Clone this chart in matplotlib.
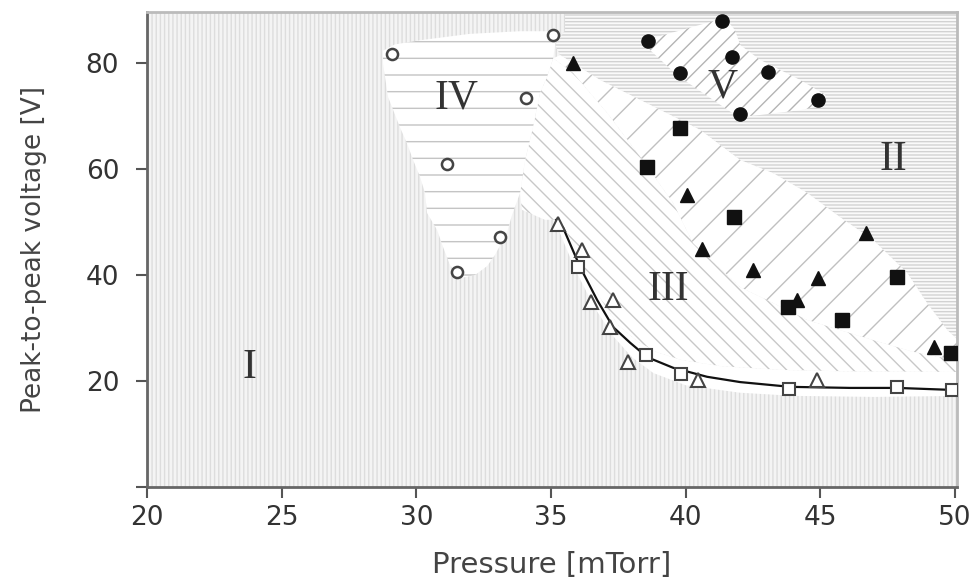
import matplotlib
matplotlib.use('Agg')
import matplotlib.pyplot as plt
from matplotlib.patches import Polygon

# measured points
open_circ_x = [29.1, 35.08, 34.07, 31.14, 33.1, 31.5]
open_circ_y = [81.7, 85.3, 73.4, 60.9, 47.2, 40.6]

fill_circ_x = [38.6, 41.35, 41.7, 39.8, 43.06, 42.0, 44.9]
fill_circ_y = [84.2, 87.9, 81.1, 78.1, 78.3, 70.4, 73.0]

fill_tri_x = [35.8, 40.05, 40.6, 42.5, 44.9, 44.14, 46.7, 49.2]
fill_tri_y = [80.0, 55.1, 44.9, 40.9, 39.4, 35.3, 47.9, 26.4]

fill_sq_x = [38.57, 39.8, 41.8, 43.8, 45.8, 47.85, 49.85]
fill_sq_y = [60.4, 67.7, 50.9, 34.0, 31.5, 39.6, 25.3]

open_tri_x = [35.26, 36.15, 36.5, 37.3, 37.2, 37.85, 40.46, 44.88]
open_tri_y = [49.6, 44.7, 34.9, 35.3, 30.2, 23.6, 20.2, 20.2]

open_sq_x = [36.0, 38.53, 39.83, 43.84, 47.85, 49.9]
open_sq_y = [41.5, 24.9, 21.3, 18.5, 18.9, 18.3]

# fitted boundary line
curve_x = [35.19, 35.45, 36.08, 36.71, 37.30, 37.94, 38.57, 39.53, 40.79, 42.02, 43.88, 46.10, 47.85, 50.0]
curve_y = [50.4, 48.9, 41.5, 35.3, 30.2, 27.2, 24.5, 22.5, 20.8, 19.8, 18.9, 18.7, 18.7, 18.3]

# region outlines
iia_upper = [(35.34, 81.5), (36.82, 76.8), (38.68, 72.1), (40.53, 67.4), (42.02, 61.7),
             (43.25, 59.2), (44.51, 55.5), (45.73, 50.9), (46.96, 46.6), (48.22, 40.4),
             (48.96, 34.7), (49.71, 29.6), (50.3, 26.8)]
iia_lower = [(35.08, 80.9), (35.82, 78.1), (37.08, 70.6), (38.31, 62.3), (39.53, 53.6),
             (40.27, 46.0), (42.02, 37.7), (43.25, 34.7), (44.51, 31.5), (46.96, 27.7),
             (48.44, 25.5), (49.93, 24.0), (50.3, 24.0)]
iv_right = [(35.08, 86.0), (35.15, 83.4), (35.08, 80.9), (34.85, 77.4), (34.59, 74.3),
            (34.33, 67.9), (34.04, 61.7), (33.85, 55.5)]
iii_bottom = [(35.3, 50.5), (35.8, 46.0), (36.3, 40.5), (36.9, 35.0), (37.5, 30.5),
              (38.2, 27.5), (38.9, 25.5), (39.8, 24.0), (41.3, 22.8), (43.5, 22.1),
              (46.1, 21.8), (50.3, 21.7)]
gap_bottom = [(35.2, 49.5), (35.9, 41.0), (36.6, 34.0), (37.3, 28.5), (38.0, 24.5),
              (38.8, 21.5), (40.0, 19.2), (42.0, 17.8), (44.0, 17.2), (47.0, 17.0), (50.3, 17.2)]
iv_top = [(28.76, 82.3), (29.2, 83.5), (30.14, 84.3), (31.99, 85.5), (33.85, 86.0)]
iv_bottom = [(33.55, 51.3), (33.37, 48.1), (32.92, 43.8), (32.63, 41.7), (32.18, 40.0), (31.62, 39.4)]
iv_left = [(31.25, 41.9), (30.99, 45.3), (30.77, 48.5), (30.40, 51.7), (30.32, 55.5),
           (30.14, 58.5), (29.88, 61.7), (29.65, 64.9), (29.39, 67.9), (28.95, 73.6), (28.76, 80.0)]
v_outline = [(38.49, 84.3), (40.53, 87.2), (41.46, 88.5), (41.83, 86.2), (42.02, 83.4),
             (42.76, 80.6), (44.25, 76.8), (45.18, 74.0), (45.18, 72.1), (44.25, 71.1),
             (42.76, 70.2), (41.95, 69.8), (40.91, 73.4), (39.68, 77.7), (38.60, 82.8)]

labels = ['I', 'II', 'III', 'IV', 'V']
label_x = [23.8, 47.7, 39.35, 31.5, 41.35]
label_y = [22.5, 61.7, 37.2, 73.4, 75.5]

plt.rcParams['hatch.linewidth'] = 1.0

fig = plt.figure(figsize=(9.73, 5.78), dpi=100)
ax = fig.add_axes([0.151, 0.1574, 0.8326, 0.8216])
ax.set_xlim(20, 50.07)
ax.set_ylim(0, 89.6)
ax.set_facecolor('#f4f4f4')

# region I: whole plot, vertical lines
ax.add_patch(Polygon([(19, -5), (51, -5), (51, 95), (19, 95)], closed=True,
                     facecolor='#f4f4f4', edgecolor='#dddddd', hatch='||||', lw=0, zorder=0.5))

# region II: dense horizontal lines
ii_poly = [(35.52, 95), (51, 95), (51, 26.8)] + iia_upper[::-1] + [(35.15, 83.4), (35.52, 86.2)]
ax.add_patch(Polygon(ii_poly, closed=True, facecolor='#fafafa', edgecolor='#d2d2d2',
                     hatch='-----', lw=0, zorder=1))

# transition band: wide "/" lines
ax.add_patch(Polygon(iia_upper + iia_lower[::-1], closed=True, facecolor='white',
                     edgecolor='#c0c0c0', hatch='/', lw=0, zorder=1.1))

# region III: dense "\" lines
iii_poly = iia_lower + [(50.3, 21.7)] + iii_bottom[::-1] + \
    [(34.78, 50.4), (33.92, 52.3)] + iv_right[::-1][:-1]
ax.add_patch(Polygon(iii_poly, closed=True, facecolor='white', edgecolor='#c8c8c8',
                     hatch='\\\\', lw=0, zorder=1.2))

# white gap round the fitted line
ax.add_patch(Polygon(iii_bottom + gap_bottom[::-1], closed=True, facecolor='white',
                     edgecolor='none', lw=0, zorder=1.3))

# region IV: horizontal lines
iv_poly = iv_top + iv_right + iv_bottom + iv_left
ax.add_patch(Polygon(iv_poly, closed=True, facecolor='white', edgecolor='#c4c4c4',
                     hatch='-', lw=0, zorder=1.4))

# region V: dense "/" lines
ax.add_patch(Polygon(v_outline, closed=True, facecolor='white', edgecolor='#b4b4b4',
                     hatch='//', lw=0, zorder=1.5))

ax.plot(curve_x, curve_y, color='#111111', lw=1.6, zorder=3)

ax.plot(open_circ_x, open_circ_y, 'o', ms=8, mfc='white', mec='#444444', mew=1.8, zorder=4)
ax.plot(fill_circ_x, fill_circ_y, 'o', ms=9.5, color='#111111', zorder=4)
ax.plot(fill_tri_x, fill_tri_y, '^', ms=10.5, color='#111111', zorder=4)
ax.plot(fill_sq_x, fill_sq_y, 's', ms=9.5, color='#111111', zorder=4)
ax.plot(open_tri_x, open_tri_y, '^', ms=10.5, mfc='white', mec='#444444', mew=1.5, zorder=4)
ax.plot(open_sq_x, open_sq_y, 's', ms=9, mfc='white', mec='#444444', mew=1.5, zorder=4)

for t, x, y in zip(labels, label_x, label_y):
    ax.text(x, y, t, family='Liberation Serif', fontsize=30, color='#333333',
            ha='center', va='center', zorder=5)

ax.set_xticks([20, 25, 30, 35, 40, 45, 50])
ax.set_yticks([0, 20, 40, 60, 80])
ax.set_yticklabels(['', '20', '40', '60', '80'])
ax.tick_params(labelsize=19, length=8, width=1.5, color='#555555', labelcolor='#333333')
ax.tick_params(axis='y', pad=12)
ax.tick_params(axis='x', pad=5)

for s in ['left', 'bottom']:
    ax.spines[s].set_color('#666666')
    ax.spines[s].set_linewidth(2)
for s in ['top', 'right']:
    ax.spines[s].set_color('#bbbbbb')
    ax.spines[s].set_linewidth(2)

ax.set_xlabel('Pressure [mTorr]', fontsize=21, color='#444444', labelpad=14)
ax.set_ylabel('Peak-to-peak voltage [V]', fontsize=19, color='#444444', labelpad=28)

fig.savefig('out.png', dpi=100)
